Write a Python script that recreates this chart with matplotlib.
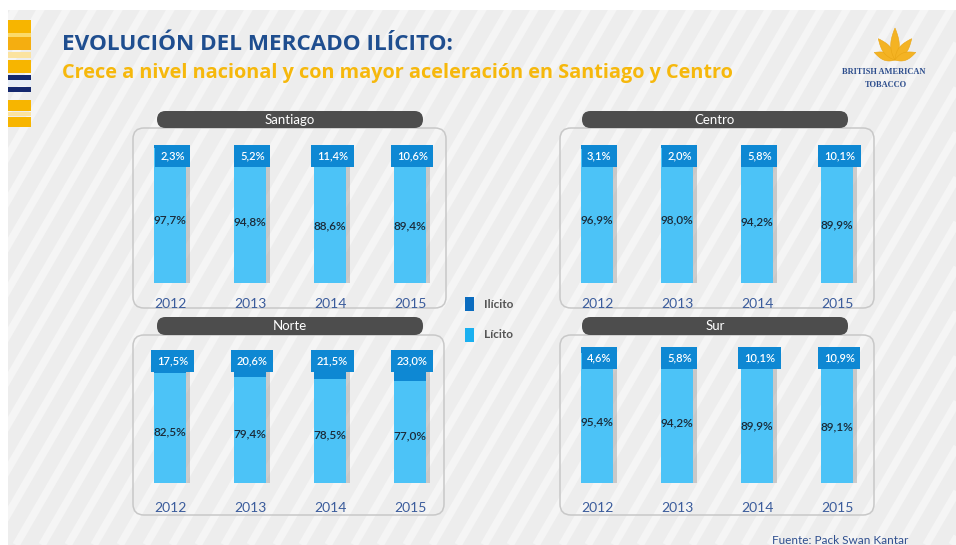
import numpy as np
import matplotlib.pyplot as plt
from matplotlib.patches import FancyBboxPatch, Rectangle, Polygon

plt.rcParams['font.family'] = ['Lato', 'DejaVu Sans']

W, H = 956, 545

# data
years = ["2012", "2013", "2014", "2015"]
santiago_licito = [97.7, 94.8, 88.6, 89.4]
santiago_ilicito = [2.3, 5.2, 11.4, 10.6]
centro_licito = [96.9, 98.0, 94.2, 89.9]
centro_ilicito = [3.1, 2.0, 5.8, 10.1]
norte_licito = [82.5, 79.4, 78.5, 77.0]
norte_ilicito = [17.5, 20.6, 21.5, 23.0]
sur_licito = [95.4, 94.2, 89.9, 89.1]
sur_ilicito = [4.6, 5.8, 10.1, 10.9]

light = "#4CC3F7"
dark = "#0E88D3"
legend_dark = "#0B6CBF"
year_col = "#3B5C9C"

fig = plt.figure(figsize=(W / 100, H / 100), dpi=100)
fig.patch.set_facecolor("white")

bg = fig.add_axes([0, 0, 1, 1])
bg.set_xlim(0, W)
bg.set_ylim(H, 0)
bg.axis("off")

# slide background with soft diagonal stripes
slide = Rectangle((8, 10), W, H, facecolor="#EDEDED", edgecolor="none", zorder=0)
bg.add_patch(slide)
for x0 in np.arange(-400, W + 50, 26):
    ln, = bg.plot([x0, x0 + 0.58 * H], [H, 0], color="#F5F5F5", lw=5.5,
                  solid_capstyle="butt", zorder=0.5)
    ln.set_clip_path(slide)

# left decoration bands
bands = [(20, 33, "#F7B500"), (33, 37, "#FBDA6A"), (37, 50, "#F5AE10"),
         (52, 58, "#FBE3A0"), (60, 73, "#F7B500"), (75, 80, "#14286E"),
         (80, 86, "#E8EEF6"), (87, 92, "#14286E"), (100, 111, "#F7B500"),
         (112, 116, "#FBE3A0"), (117, 127, "#F7B500")]
for y0, y1, c in bands:
    bg.add_patch(Rectangle((8, y0), 23, y1 - y0, facecolor=c, edgecolor="none",
                           zorder=1))

# titles
bg.text(62, 45, "EVOLUCIÓN DEL MERCADO ILÍCITO:", color="#1F4E8F",
        fontsize=16.2, fontweight="bold", va="center", ha="left",
        family=["Open Sans", "DejaVu Sans"])
bg.text(62, 73, "Crece a nivel nacional y con mayor aceleración en Santiago y Centro",
        color="#F6B80C", fontsize=14.3, fontweight="bold", va="center", ha="left",
        family=["Open Sans", "DejaVu Sans"])


# logo leaves
def leaf(bx, by, ang, length, width):
    t = np.linspace(0, 1, 30)
    half = width / 2 * np.sin(np.pi * t) ** 0.9 * (1 - 0.3 * t)
    xs = np.concatenate([half, -half[::-1]])
    ys = np.concatenate([t, t[::-1]]) * length
    a = np.radians(ang)
    px = bx + xs * np.cos(a) + ys * np.sin(a)
    py = by - ys * np.cos(a) + xs * np.sin(a)
    return np.column_stack([px, py])


for ang, ln_, wd in [(-70, 22, 9), (-38, 27, 10), (0, 32, 10), (38, 27, 10), (70, 22, 9)]:
    bg.add_patch(Polygon(leaf(895, 60, ang, ln_, wd), closed=True,
                         facecolor="#F4B323", edgecolor="#E9A514", lw=0.4, zorder=2))
bg.text(884, 72, "BRITISH AMERICAN", color="#2B4C8C", fontsize=6,
        family=["Liberation Serif"], fontweight="bold", ha="center", va="center")
bg.text(886, 85, "TOBACCO", color="#2B4C8C", fontsize=6,
        family=["Liberation Serif"], fontweight="bold", ha="center", va="center")

# legend
bg.add_patch(Rectangle((465, 297), 9, 14, facecolor=legend_dark, edgecolor="none", zorder=2))
bg.add_patch(Rectangle((465, 328), 9, 14, facecolor="#1AB0F0", edgecolor="none", zorder=2))
bg.text(484, 304, "Ilícito", fontsize=8.5, fontweight="bold", color="#555555", va="center")
bg.text(484, 335, "Lícito", fontsize=8.5, fontweight="bold", color="#555555", va="center")

# footer
bg.text(772, 541, "Fuente: Pack Swan Kantar", fontsize=8.5, color="#2F4F8F", va="center")


def fmt(v):
    return f"{v:.1f}%".replace(".", ",")


def panel(name, licit, illicit, box, pill, axbox, pad):
    bx0, by0, bx1, by1 = box
    bg.add_patch(FancyBboxPatch((bx0, by0), bx1 - bx0, by1 - by0,
                                boxstyle="round,pad=0,rounding_size=11",
                                facecolor="none", edgecolor="#C8C8C8", lw=1.1,
                                zorder=2))
    px0, py0, px1, py1 = pill
    bg.add_patch(FancyBboxPatch((px0, py0), px1 - px0, py1 - py0,
                                boxstyle="round,pad=0,rounding_size=8.5",
                                facecolor="#4D4D4D", edgecolor="none", zorder=3))
    bg.text((px0 + px1) / 2, (py0 + py1) / 2 + 0.5, name, color="white",
            fontsize=9.5, ha="center", va="center", zorder=4)

    ax0, ay0, ax1, ay1 = axbox
    ax = fig.add_axes([ax0 / W, 1 - ay1 / H, (ax1 - ax0) / W, (ay1 - ay0) / H])
    ax.patch.set_alpha(0)
    x = np.arange(len(years))
    ax.bar(x + 0.05, 100, 0.4, color="#9C9C9C", alpha=0.45, zorder=1)
    ax.bar(x, licit, 0.4, color=light, zorder=2)
    ax.bar(x, illicit, 0.4, bottom=licit, color=dark, zorder=2)
    for i in range(len(years)):
        ax.text(x[i], licit[i] / 2 - 3, fmt(licit[i]), ha="center", va="center",
                fontsize=8.5, fontweight="semibold", color="#1B2A38", zorder=4)
        ax.text(x[i] + 0.03, 92, fmt(illicit[i]), ha="center", va="center",
                fontsize=8, fontweight="semibold", color="white", zorder=4,
                bbox=dict(boxstyle="square,pad=0.5", facecolor=dark,
                          edgecolor="none"))
    ax.set_xlim(-0.5, len(years) - 0.5)
    ax.set_ylim(0, 100)
    ax.set_xticks(x)
    ax.set_xticklabels(years, fontsize=10, color=year_col)
    ax.tick_params(axis="x", length=0, pad=pad)
    ax.set_yticks([])
    for s in ax.spines.values():
        s.set_visible(False)


panel("Santiago", santiago_licito, santiago_ilicito,
      (133, 128, 446, 308), (157, 111, 423, 128), (130, 145, 450, 283), 11)
panel("Centro", centro_licito, centro_ilicito,
      (560, 128, 874, 308), (582, 111, 848, 128), (557, 145, 877, 283), 11)
panel("Norte", norte_licito, norte_ilicito,
      (133, 335, 444, 515), (157, 317, 423, 335), (130, 350, 450, 483), 14)
panel("Sur", sur_licito, sur_ilicito,
      (560, 335, 874, 515), (582, 317, 848, 335), (557, 347, 877, 483), 14)

fig.savefig("out.png", dpi=100, facecolor=fig.get_facecolor())
